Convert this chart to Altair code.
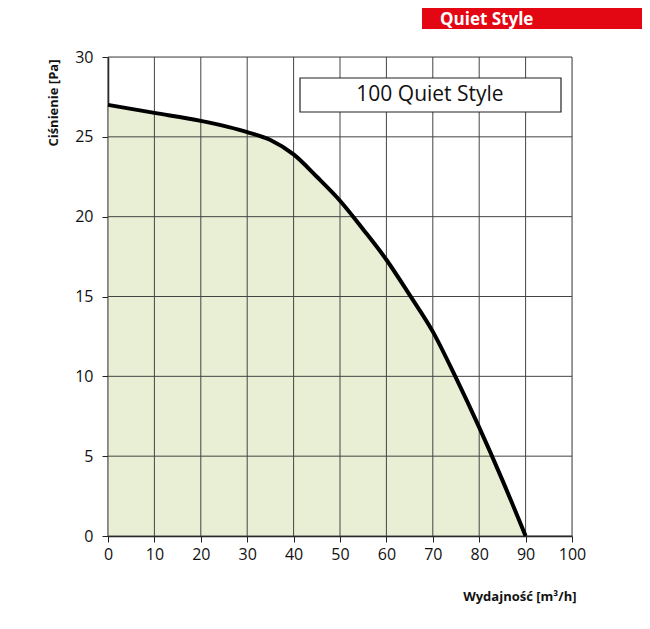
import altair as alt
import pandas as pd

flow = [0, 10, 20, 30, 35, 40, 45, 50, 55, 60, 65, 70, 75, 80, 85, 90]
pressure = [27.0, 26.5, 26.0, 25.3, 24.8, 23.9, 22.5, 21.0, 19.2, 17.3, 15.1, 12.8, 9.9, 6.8, 3.5, 0.0]
x_ticks = list(range(0, 101, 10))
y_ticks = list(range(0, 31, 5))

df = pd.DataFrame({"flow": flow, "pressure": pressure})
FONT = "Open Sans"

xscale = alt.Scale(domain=[0, 100], nice=False)
yscale = alt.Scale(domain=[0, 30], nice=False)

x = alt.X("flow:Q", scale=xscale,
          axis=alt.Axis(values=x_ticks, grid=False, labelFlush=False, title="Wydajność [m³/h]",
                        titleAnchor="end", titleAlign="right", titleBaseline="middle",
                        titleX=468, titleY=60, titleFontSize=13, titleFontWeight="bold",
                        titleColor="#111", labelFontSize=16, labelColor="#111", labelPadding=4,
                        tickSize=6, tickColor="#222", domainColor="#111", domainWidth=1.5,
                        labelFont=FONT, titleFont=FONT))
y = alt.Y("pressure:Q", scale=yscale,
          axis=alt.Axis(values=y_ticks, grid=False, labelFlush=False, title="Ciśnienie [Pa]",
                        titleAnchor="end", titleAngle=-90, titleAlign="right",
                        titleBaseline="middle", titleX=-55, titleY=2, titleFontSize=13,
                        titleFontWeight="bold", titleColor="#111", labelFontSize=16,
                        labelColor="#111", labelPadding=9, tickSize=6, tickColor="#222",
                        domainColor="#111", domainWidth=1.5, labelFont=FONT, titleFont=FONT))

base = alt.Chart(df)
area = base.mark_area(color="#e9efd4", opacity=1, interpolate="monotone").encode(x=x, y=y)
line = base.mark_line(color="#000", strokeWidth=4, interpolate="monotone").encode(x="flow:Q", y="pressure:Q")

vgrid = alt.Chart(pd.DataFrame({"gx": x_ticks})).mark_rule(color="#444", strokeWidth=1).encode(
    x=alt.X("gx:Q", scale=xscale))
hgrid = alt.Chart(pd.DataFrame({"gy": y_ticks})).mark_rule(color="#444", strokeWidth=1).encode(
    y=alt.Y("gy:Q", scale=yscale))

one = alt.Chart(pd.DataFrame({"a": [0]}))
legend_box = one.mark_rect(fill="white", stroke="#222", strokeWidth=1.2).encode(
    x=alt.value(192), x2=alt.value(453), y=alt.value(21), y2=alt.value(55))
legend_text = one.mark_text(text="100 Quiet Style", fontSize=21, font=FONT, color="#111",
                            align="center", baseline="middle").encode(
    x=alt.value(322), y=alt.value(38))
badge = one.mark_rect(fill="#e30613").encode(
    x=alt.value(314), x2=alt.value(534), y=alt.value(-49), y2=alt.value(-28))
badge_text = one.mark_text(text="Quiet Style", fontSize=17, fontWeight="bold", font=FONT,
                           color="white", align="left", baseline="middle").encode(
    x=alt.value(332), y=alt.value(-37))

chart = alt.layer(area, vgrid, hgrid, line, legend_box, legend_text, badge, badge_text).properties(
    width=464, height=479,
    autosize=alt.AutoSizeParams(type="none"),
    padding={"left": 100, "top": 49, "right": 70, "bottom": 78},
).configure_view(stroke="#111", strokeWidth=1.5).configure(background="white")

chart.save("out.html", embed_options={"renderer": "svg", "actions": False})
